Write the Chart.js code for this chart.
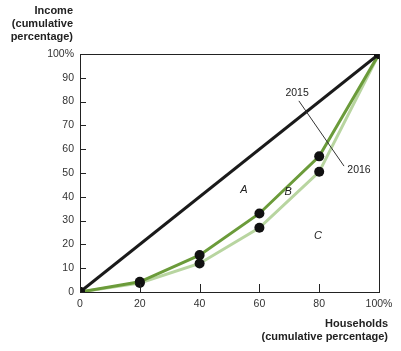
<!DOCTYPE html>
<html><head><meta charset="utf-8">
<script src="https://cdn.jsdelivr.net/npm/chart.js@4"></script>
<style>html,body{margin:0;padding:0;background:#fff}#w{width:401px;height:351px}</style>
</head><body><div id="w"><canvas id="c"></canvas></div>
<script>
const households = [0, 20, 40, 60, 80, 100];
const income2015 = [0, 4.3, 15.5, 33, 57, 100];
const income2016 = [0, 3.8, 12, 27, 50.5, 100];
const equality = [0, 100];
const equalityX = [0, 100];
const xTicks = [0, 20, 40, 60, 80, 100];
const yTicks = [0, 10, 20, 30, 40, 50, 60, 70, 80, 90, 100];
const areaLabels = [{t:'A', x:54.8, y:42.9}, {t:'B', x:69.6, y:42}, {t:'C', x:79.6, y:23.5}];
const yearLabels = [{t:'2015', x:72.6, y:83.6}, {t:'2016', x:93.3, y:51.3}];
const leader = [{x:73.2, y:80.3}, {x:88.3, y:52.9}];

const pts = (xs, ys) => xs.map((x,i)=>({x, y: ys[i]}));
const FONT = "'Liberation Sans', Arial, sans-serif";

const overlay = {
  id: 'overlay',
  afterDraw(chart) {
    const {ctx, scales:{x, y}, chartArea:a} = chart;
    ctx.save();
    ctx.strokeStyle = '#222'; ctx.lineWidth = 1;
    yTicks.forEach(v => { const py = Math.round(y.getPixelForValue(v))+0.5; ctx.beginPath(); ctx.moveTo(a.left, py); ctx.lineTo(a.left+6, py); ctx.stroke(); });
    xTicks.forEach(v => { const px = Math.round(x.getPixelForValue(v))+0.5; ctx.beginPath(); ctx.moveTo(px, a.bottom); ctx.lineTo(px, a.bottom-8); ctx.stroke(); });
    ctx.strokeStyle = '#333'; ctx.lineWidth = 1;
    ctx.beginPath();
    ctx.moveTo(x.getPixelForValue(leader[0].x), y.getPixelForValue(leader[0].y));
    ctx.lineTo(x.getPixelForValue(leader[1].x), y.getPixelForValue(leader[1].y));
    ctx.stroke();
    ctx.fillStyle = '#222';
    ctx.textAlign = 'center'; ctx.textBaseline = 'middle';
    ctx.font = '10.5px ' + FONT;
    yearLabels.forEach(l => ctx.fillText(l.t, x.getPixelForValue(l.x), y.getPixelForValue(l.y)));
    ctx.font = 'italic 11px ' + FONT;
    areaLabels.forEach(l => ctx.fillText(l.t, x.getPixelForValue(l.x), y.getPixelForValue(l.y)));
    ctx.font = 'bold 11px ' + FONT;
    ctx.textAlign = 'right'; ctx.textBaseline = 'alphabetic';
    ctx.fillText('Income', 73, 14);
    ctx.fillText('(cumulative', 73, 27);
    ctx.fillText('percentage)', 73, 40);
    ctx.fillText('Households', 388, 327);
    ctx.fillText('(cumulative percentage)', 388, 340);
    ctx.restore();
  }
};

new Chart(document.getElementById('c'), {
  type: 'scatter',
  data: {
    datasets: [
      { label: '2016', data: pts(households, income2016), showLine: true, borderColor: '#b8d5a0', borderWidth: 3, pointRadius: 5, pointBackgroundColor: '#111', pointBorderColor: '#111', pointBorderWidth: 0, order: 3, tension: 0 },
      { label: '2015', data: pts(households, income2015), showLine: true, borderColor: '#6b9b3a', borderWidth: 3, pointRadius: 5, pointBackgroundColor: '#111', pointBorderColor: '#111', pointBorderWidth: 0, order: 2, tension: 0 },
      { label: 'Equality', data: pts(equalityX, equality), showLine: true, borderColor: '#1a1a1a', borderWidth: 3, pointRadius: 5, pointBackgroundColor: '#111', pointBorderColor: '#111', pointBorderWidth: 0, order: 1 }
    ]
  },
  options: {
    responsive: true, maintainAspectRatio: false, animation: false,
    layout: { padding: { top: 54, right: 22, left: 0, bottom: 0 } },
    plugins: { legend: { display: false }, tooltip: { enabled: false } },
    scales: {
      x: {
        type: 'linear', min: 0, max: 100,
        afterBuildTicks: s => { s.ticks = xTicks.map(v => ({value: v})); },
        afterFit: s => { s.height = 351 - 292; },
        grid: { display: false, drawTicks: false },
        border: { display: true, color: '#222', width: 1 },
        ticks: { padding: 6, color: '#333', font: { size: 10.5, family: FONT }, maxRotation: 0, callback: v => v === 100 ? '100%' : v }
      },
      y: {
        type: 'linear', min: 0, max: 100,
        afterBuildTicks: s => { s.ticks = yTicks.map(v => ({value: v})); },
        afterFit: s => { s.width = 80; },
        grid: { display: false, drawTicks: false },
        border: { display: true, color: '#222', width: 1 },
        ticks: { padding: 6, color: '#333', font: { size: 10.5, family: FONT }, callback: v => v === 100 ? '100%' : v }
      },
      x2: { type: 'linear', position: 'top', min: 0, max: 100, display: true, grid: { display: false, drawTicks: false }, border: { display: true, color: '#222' }, ticks: { display: false }, afterFit: s => { s.height = 0; } },
      y2: { type: 'linear', position: 'right', min: 0, max: 100, display: true, grid: { display: false, drawTicks: false }, border: { display: true, color: '#222' }, ticks: { display: false }, afterFit: s => { s.width = 0; } }
    }
  },
  plugins: [overlay]
});
</script>
</body></html>
